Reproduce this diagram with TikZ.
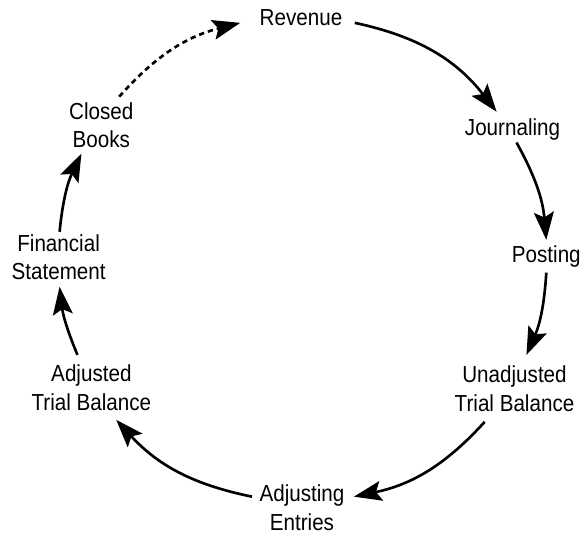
\documentclass[tikz,border=0pt]{standalone}
\usepackage{fontspec}
\setmainfont{Liberation Sans}[FakeStretch=0.89]
\usepackage{tikz}
\usetikzlibrary{arrows.meta, calc}

\tikzset{
    stage/.style={font=\fontsize{17.5}{21.75}\selectfont, align=center, inner sep=4pt},
    flow/.style={line width=2pt, -{Stealth[length=21pt,width=15pt,inset=4pt]}},
    closing/.style={flow, dash pattern=on 4pt off 3pt}
}

\begin{document}
\begin{tikzpicture}[x=0.75pt,y=0.75pt,yscale=-1,xscale=1]
        \path (0,0) rectangle (586,540); %keep the page at 586 x 540

        %Stages round the cycle
        \node[stage] (rev) at (303,18) {Revenue};
        \node[stage] (jour) at (516,130) {Journaling};
        \node[stage] (post) at (550,258) {Posting};
        \node[stage] (unadj) at (518,391) {Unadjusted\\Trial Balance};
        \node[stage] (adjent) at (304,511) {Adjusting\\Entries};
        \node[stage] (adjtb) at (92,390) {Adjusted\\Trial Balance};
        \node[stage] (fin) at (59,259) {Financial\\Statement};
        \node[stage] (closed) at (102,126) {Closed\\Books};

        %Arrows (bend right, since y runs downwards)
        \draw[flow] ($(rev.east)+(7,5)$) to[bend right=20] ($(jour.north)+(-16,-1)$);
        \draw[flow] ($(jour.south)+(4,-3)$) to[bend right=12] (post.north);
        \draw[flow] (post.south) to[bend right=10] ($(unadj.north)+(12,-5)$);
        \draw[flow] ($(unadj.south)+(-30,5)$) to[bend right=18] ($(adjent.east)+(4,-11)$);
        \draw[flow] ($(adjent.west)+(-2,-11)$) to[bend right=18] ($(adjtb.south)+(25,4)$);
        \draw[flow] ($(adjtb.north)+(-14,-4)$) to[bend right=8] ($(fin.south)+(1,1)$);
        \draw[flow] ($(fin.north)+(1,3)$) to[bend right=10] ($(closed.south)+(-20,0)$);
        %Dashed return to the start
        \draw[closing] ($(closed.north)+(18,0)$) to[bend right=17] ($(rev.west)+(-14,5)$);

    \end{tikzpicture}
\end{document}
